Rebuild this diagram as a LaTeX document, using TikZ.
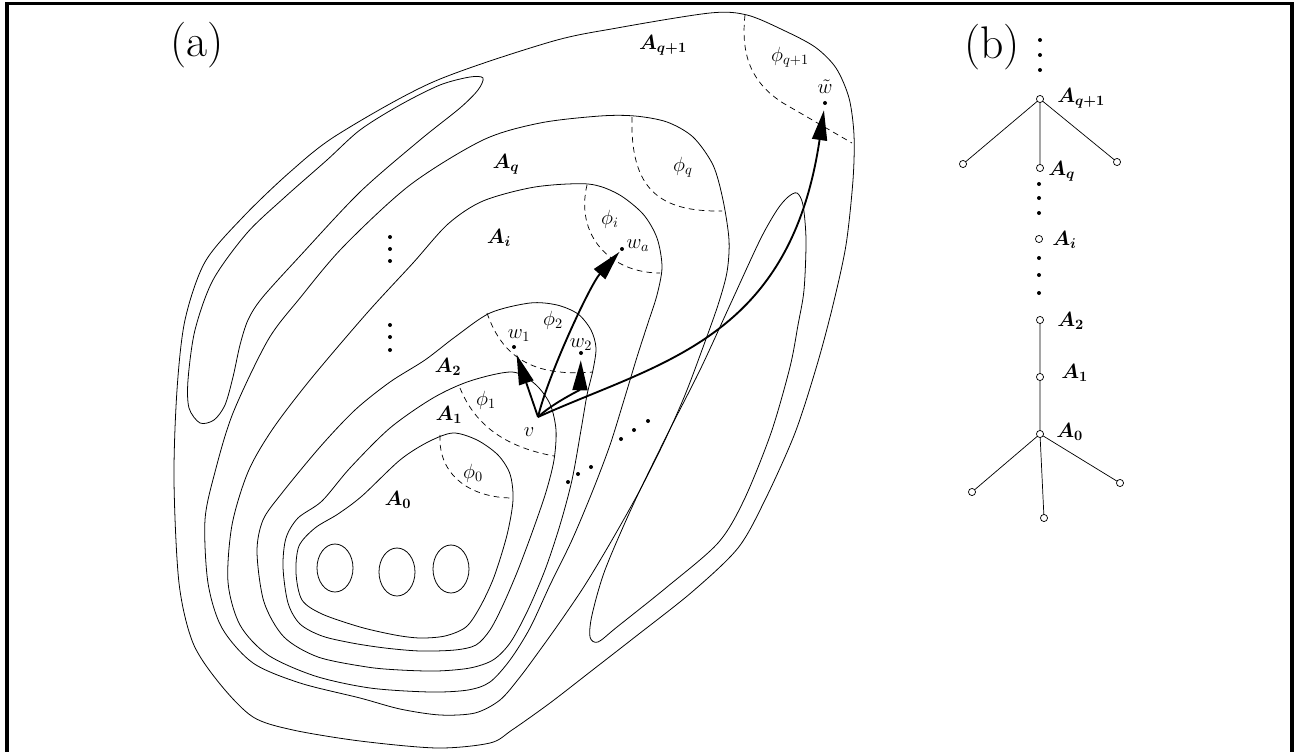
\documentclass[tikz,border=0pt]{standalone}
\usepackage{bm}
\usetikzlibrary{arrows.meta}
\begin{document}
\begin{tikzpicture}[x=0.7pt,y=-0.7pt,
  contour/.style={line width=0.55pt, line join=round},
  phiarc/.style={line width=0.5pt, dash pattern=on 4pt off 3pt},
  arr/.style={line width=1.3pt, -{Triangle[length=21pt,width=10.5pt]}},
  dot/.style={circle, fill=black, inner sep=0pt, minimum size=2.8pt},
  tnode/.style={circle, draw, fill=white, inner sep=0pt, minimum size=5pt, line width=0.5pt},
  lab/.style={inner sep=0pt, font=\Large},
  partlabel/.style={inner sep=0pt, font=\fontsize{32}{38}\selectfont},
  frame/.style={line width=2.5pt}
]
\useasboundingbox (0,0) rectangle (1296,752);
\draw[frame] (7,752) -- (7,3.5) -- (1292,3.5) -- (1292,752);

% ---------- part (a) ----------
\node[partlabel] (la) at (197,45) {(a)};

% outer contour
\draw[contour] plot[smooth cycle] coordinates {(710,13) (747,15) (783,30) (815,47) (836,68) (849,98) (854,135) (853,180) (846,245) (833,305) (817,365) (795,433) (765,500) (738,548) (692,592) (635,637) (590,672) (550,703) (512,730) (490,743) (437,748) (360,741) (293,730) (253,717) (220,684) (193,643) (179,583) (174,480) (177,390) (185,320) (205,262) (243,217) (290,172) (337,135) (433,82) (550,42) (617,28)};
% left finger
\draw[contour] plot[smooth cycle] coordinates {(483,78) (470,77) (440,85) (400,105) (360,130) (327,160) (285,197) (247,233) (213,280) (195,330) (188,380) (189,408) (200,423) (214,420) (225,405) (233,377) (240,345) (248,320) (262,298) (300,256) (360,192) (420,140) (460,108) (478,90)};
% right finger
\draw[contour] plot[smooth cycle] coordinates {(797,193) (803,205) (806,240) (804,290) (798,325) (790,367) (771,433) (744,500) (718,543) (667,587) (617,627) (598,642) (590,637) (592,615) (605,570) (633,505) (667,435) (700,370) (730,305) (760,240) (777,210) (788,197)};
% A_q contour
\draw[contour] plot[smooth cycle] coordinates {(600,116) (635,116) (667,122) (693,137) (713,165) (723,200) (729,240) (727,272) (718,305) (702,350) (685,395) (665,440) (640,490) (612,540) (585,585) (560,622) (540,650) (520,677) (500,700) (475,713) (440,715) (400,709) (360,698) (300,683) (253,663) (222,628) (208,583) (205,520) (215,472) (233,413) (268,340) (300,298) (343,247) (410,185) (483,140) (540,123)};
% A_i contour
\draw[contour] plot[smooth cycle] coordinates {(588,184) (618,194) (643,214) (657,238) (662,267) (657,295) (648,323) (637,357) (624,400) (610,445) (593,490) (572,540) (550,585) (530,628) (510,660) (490,682) (468,690) (430,692) (370,688) (315,676) (268,655) (240,625) (228,582) (232,525) (248,472) (272,430) (310,380) (367,313) (413,263) (448,224) (483,201) (535,187)};
% A_2 contour
\draw[contour] plot[smooth cycle] coordinates {(530,303) (557,305) (578,314) (591,330) (596,348) (593,370) (587,395) (581,430) (572,480) (560,525) (545,570) (527,612) (510,643) (493,660) (470,668) (437,671) (400,670) (367,667) (318,657) (284,637) (264,602) (257,552) (263,520) (282,493) (320,447) (355,410) (390,382) (425,360) (455,337) (490,313)};
% A_1 contour
\draw[contour] plot[smooth cycle] coordinates {(512,372) (535,384) (550,404) (556,430) (554,460) (546,492) (533,530) (518,570) (503,605) (490,630) (476,645) (455,650) (420,651) (385,648) (352,643) (322,636) (300,624) (288,603) (283,567) (286,538) (298,518) (322,501) (350,468) (390,428) (433,398) (470,381)};
% A_0 contour
\draw[contour] plot[smooth cycle] coordinates {(453,433) (477,440) (498,455) (510,474) (513,500) (507,535) (494,577) (480,607) (466,627) (445,636) (420,638) (395,635) (360,627) (322,614) (302,600) (296,573) (299,546) (315,528) (338,514) (362,496) (400,460) (428,442)};
% holes
\draw[contour] (335,568) ellipse [x radius=18, y radius=24];
\draw[contour] (397,572) ellipse [x radius=18, y radius=24];
\draw[contour] (451,569) ellipse [x radius=18, y radius=24];

% dashed phi arcs
\draw[phiarc] (745,15) .. controls (740,60) and (755,85) .. (783,103) -- (852,143);
\draw[phiarc] (632,117) .. controls (630,190) and (660,212) .. (722,211);
\draw[phiarc] (587,185) .. controls (575,235) and (610,273) .. (660,273);
\draw[phiarc] (487,313) .. controls (500,350) and (525,378) .. (593,372);
\draw[phiarc] (460,388) .. controls (475,425) and (505,447) .. (554,456);
\draw[phiarc] (440,435) .. controls (438,475) and (470,498) .. (513,498);

% dots (ellipses)
\foreach \p in {(390,237),(390,249),(390,261),(390,325),(390,337),(390,350),
  (568,482),(578,474),(591,467),(621,439),(634,430),(648,421)}
  \fill \p circle [radius=2];

% labels
\node[lab] (lAq1) at (663,45) {$\bm{A_{q+1}}$};
\node[lab] (lphq1) at (790,57) {$\phi_{q+1}$};
\node[lab] (lwt) at (825,87) {$\tilde w$};
\node[lab] (lAq) at (506,164) {$\bm{A_{q}}$};
\node[lab] (lphq) at (683,167) {$\phi_{q}$};
\node[lab] (lAi) at (499,238) {$\bm{A_{i}}$};
\node[lab] (lphi) at (610,219) {$\phi_{i}$};
\node[lab] (lwa) at (638,246) {$w_a$};
\node[lab] (lph2) at (553,320) {$\phi_{2}$};
\node[lab] (lw1) at (519,336) {$w_1$};
\node[lab] (lw2) at (581,345) {$w_2$};
\node[lab] (lA2) at (448,367) {$\bm{A_{2}}$};
\node[lab] (lph1) at (486,400) {$\phi_{1}$};
\node[lab] (lA1) at (449,415) {$\bm{A_{1}}$};
\node[lab] (lv) at (529,432) {$v$};
\node[lab] (lph0) at (473,473) {$\phi_{0}$};
\node[lab] (lA0) at (398,500) {$\bm{A_{0}}$};

% points and arrows
\coordinate (v) at (538,417);
\node[dot] (w1) at (514,347) {};
\node[dot] (w2) at (581,353) {};
\node[dot] (wa) at (622,249) {};
\node[dot] (wt) at (825,103) {};
\draw[arr, shorten >=4pt] (v) -- (w1);
\draw[arr, shorten >=3.5pt] (v) .. controls (553,403) and (580,390) .. (w2);
\draw[arr, shorten >=1pt] (v) .. controls (548,375) and (590,285) .. (wa);
\draw[arr, shorten >=3.5pt] (v) .. controls (660,362) and (790,340) .. (wt);

% ---------- part (b) ----------
\node[partlabel] (lb) at (992,47) {(b)};
\foreach \p in {(1040,40),(1040,55),(1040,70),(1039,184),(1039,198),(1039,213),(1039,258),(1039,275),(1039,293)}
  \fill \p circle [radius=2];
\coordinate (Aq1) at (1040,99);
\coordinate (cL) at (963,164);
\coordinate (Aq) at (1040,168);
\coordinate (cR) at (1117,162);
\coordinate (Ai) at (1039,239);
\coordinate (A2) at (1040,320);
\coordinate (A1) at (1040,377);
\coordinate (A0) at (1040,434);
\coordinate (dL) at (972,492);
\coordinate (dM) at (1044,518);
\coordinate (dR) at (1120,483);
\draw[line width=0.5pt] (Aq1) -- (cL) (Aq1) -- (Aq) (Aq1) -- (cR)
  (A2) -- (A1) -- (A0) (A0) -- (dL) (A0) -- (dM) (A0) -- (dR);
\foreach \n in {Aq1,cL,Aq,cR,Ai,A2,A1,A0,dL,dM,dR}
  \node[tnode] at (\n) {};
\node[lab, anchor=west] (tAq1) at (1057,98) {$\bm{A_{q+1}}$};
\node[lab, anchor=west] (tAq) at (1048,171) {$\bm{A_{q}}$};
\node[lab, anchor=west] (tAi) at (1052,240) {$\bm{A_{i}}$};
\node[lab, anchor=west] (tA2) at (1057,321) {$\bm{A_{2}}$};
\node[lab, anchor=west] (tA1) at (1061,373) {$\bm{A_{1}}$};
\node[lab, anchor=west] (tA0) at (1056,432) {$\bm{A_{0}}$};
\end{tikzpicture}
\end{document}
